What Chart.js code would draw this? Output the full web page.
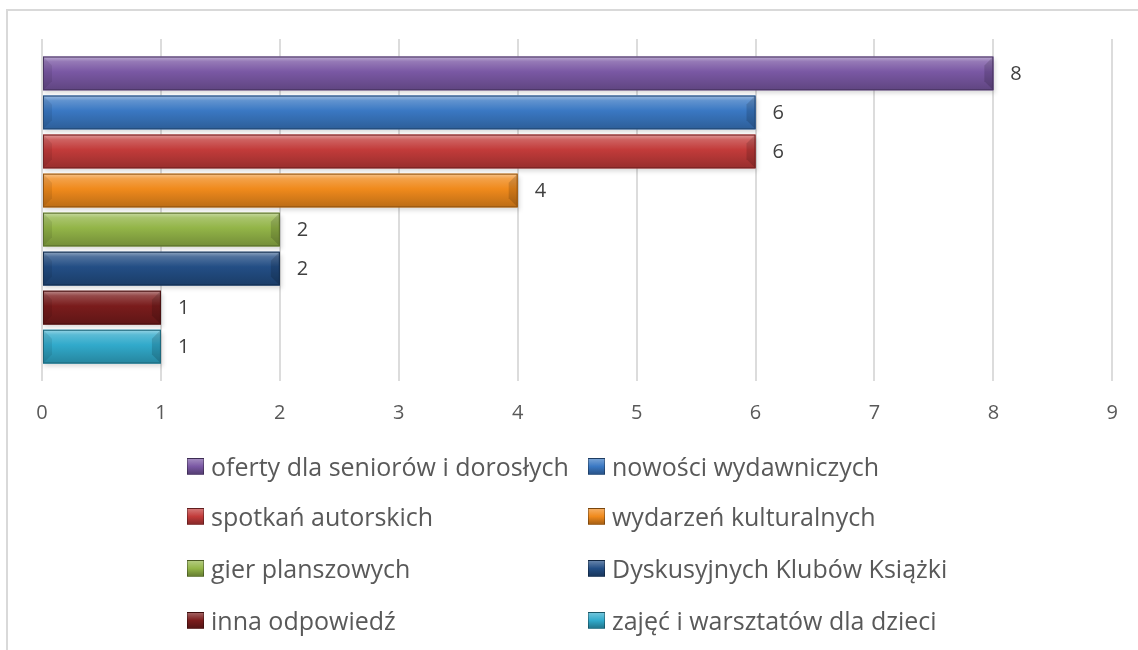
<!DOCTYPE html>
<html>
<head>
<meta charset="utf-8">
<script src="https://cdn.jsdelivr.net/npm/chart.js@4.4.1/dist/chart.umd.min.js"></script>
<style>
    html, body { margin: 0; padding: 0; background: #fff; }
    body { width: 1138px; height: 650px; position: relative; overflow: hidden; font-family: "Open Sans", sans-serif; }
    #frame { position: absolute; left: 6px; top: 9px; width: 1200px; height: 700px; border-left: 2px solid #d9d9d9; border-top: 2px solid #d9d9d9; }
    #chart { position: absolute; left: 0; top: 0; }
    #legend { position: absolute; left: 0; top: 0; width: 1138px; height: 650px; pointer-events: none; }
    .item { position: absolute; display: flex; align-items: center; height: 34px; color: #595959; font-size: 25px; white-space: nowrap; }
    .sw { width: 15px; height: 15px; margin-right: 7px; border: 1px solid rgba(0,0,0,0.3); }
</style>
</head>
<body>
<div id="frame"></div>
<canvas id="chart" width="1138" height="650"></canvas>
<div id="legend"></div>
<script>
// Data
const seriesNames = [
    'oferty dla seniorów i dorosłych',
    'nowości wydawniczych',
    'spotkań autorskich',
    'wydarzeń kulturalnych',
    'gier planszowych',
    'Dyskusyjnych Klubów Książki',
    'inna odpowiedź',
    'zajęć i warsztatów dla dzieci'
];
const seriesValues = [8, 6, 6, 4, 2, 2, 1, 1];
const seriesColors = ['#7a58a4', '#3a78c3', '#c23b3a', '#f08a1c', '#93b548', '#234e85', '#7a1c1c', '#31aacb'];
const xTicks = [0, 1, 2, 3, 4, 5, 6, 7, 8, 9];

// lighten (amt > 0) or darken (amt < 0) a hex colour
function shade(hex, amt) {
    const n = parseInt(hex.slice(1), 16);
    let r = n >> 16, g = (n >> 8) & 255, b = n & 255;
    const f = c => amt >= 0 ? Math.round(c + (255 - c) * amt) : Math.round(c * (1 + amt));
    return `rgb(${f(r)}, ${f(g)}, ${f(b)})`;
}

// shadow under bars, then gradient + bevel faces on top of them
const bevelPlugin = {
    id: 'bevel',
    beforeDatasetsDraw(chart) {
        const ctx = chart.ctx;
        chart.data.datasets.forEach((ds, i) => {
            const bar = chart.getDatasetMeta(i).data[0];
            const h = bar.height, x0 = bar.base, x1 = bar.x, y0 = bar.y - h / 2;
            ctx.save();
            ctx.fillStyle = 'rgba(0,0,0,0.14)';
            ctx.filter = 'blur(2px)';
            ctx.fillRect(x0 + 1, y0 + 3, x1 - x0 + 1, h);
            ctx.restore();
        });
    },
    afterDatasetsDraw(chart) {
        const ctx = chart.ctx;
        chart.data.datasets.forEach((ds, i) => {
            const bar = chart.getDatasetMeta(i).data[0];
            const base = seriesColors[i];
            const h = bar.height, x0 = bar.base, x1 = bar.x, y0 = bar.y - h / 2, y1 = y0 + h;
            const b = 9;
            ctx.save();
            const g = ctx.createLinearGradient(0, y0, 0, y1);
            g.addColorStop(0, shade(base, 0.5));
            g.addColorStop(0.15, shade(base, 0.2));
            g.addColorStop(0.45, base);
            g.addColorStop(1, shade(base, -0.22));
            ctx.fillStyle = g;
            ctx.fillRect(x0, y0, x1 - x0, h);
            // left bevel face
            ctx.fillStyle = 'rgba(0,0,0,0.08)';
            ctx.beginPath();
            ctx.moveTo(x0, y0); ctx.lineTo(x0 + b, y0 + b); ctx.lineTo(x0 + b, y1 - b); ctx.lineTo(x0, y1); ctx.closePath();
            ctx.fill();
            // right bevel face
            ctx.fillStyle = 'rgba(0,0,0,0.14)';
            ctx.beginPath();
            ctx.moveTo(x1, y0); ctx.lineTo(x1 - b, y0 + b); ctx.lineTo(x1 - b, y1 - b); ctx.lineTo(x1, y1); ctx.closePath();
            ctx.fill();
            ctx.strokeStyle = shade(base, -0.4);
            ctx.lineWidth = 1;
            ctx.strokeRect(x0 + 0.5, y0 + 0.5, x1 - x0 - 1, h - 1);
            ctx.restore();
        });
    }
};

// value labels right of bars
const valueLabels = {
    id: 'valueLabels',
    afterDatasetsDraw(chart) {
        const ctx = chart.ctx;
        ctx.save();
        ctx.font = '20px "Open Sans", sans-serif';
        ctx.fillStyle = '#404040';
        ctx.textAlign = 'left';
        ctx.textBaseline = 'middle';
        chart.data.datasets.forEach((ds, i) => {
            const bar = chart.getDatasetMeta(i).data[0];
            ctx.fillText(String(ds.data[0]), bar.x + 17, bar.y + 1);
        });
        ctx.restore();
    }
};

const chart = new Chart(document.getElementById('chart'), {
    type: 'bar',
    data: {
        labels: [''],
        datasets: seriesNames.map((name, i) => ({
            label: name,
            data: [seriesValues[i]],
            backgroundColor: seriesColors[i],
            borderWidth: 0,
            categoryPercentage: 0.913,
            barPercentage: 0.863
        }))
    },
    options: {
        indexAxis: 'y',
        responsive: false,
        animation: false,
        layout: { padding: { left: 42, right: 24, top: 39, bottom: 205 } },
        plugins: { legend: { display: false }, tooltip: { enabled: false } },
        scales: {
            x: {
                min: 0, max: 9,
                afterBuildTicks: axis => { axis.ticks = xTicks.map(v => ({ value: v })); },
                grid: { color: '#dcdcdc', lineWidth: 2, drawTicks: false },
                border: { display: false },
                ticks: { padding: 20, color: '#595959', font: { family: '"Open Sans", sans-serif', size: 20 } }
            },
            y: { display: false }
        }
    },
    plugins: [bevelPlugin, valueLabels]
});

// legend in two columns, like the original
const legend = document.getElementById('legend');
const colX = [187, 588];
const rowY = [466, 516, 568, 620];
seriesNames.forEach((name, i) => {
    const el = document.createElement('div');
    el.className = 'item';
    el.style.left = colX[i % 2] + 'px';
    el.style.top = (rowY[Math.floor(i / 2)] - 17) + 'px';
    const c = seriesColors[i];
    el.innerHTML = `<span class="sw" style="background: linear-gradient(${shade(c, 0.3)}, ${c} 50%, ${shade(c, -0.3)})"></span>${name}`;
    legend.appendChild(el);
});
</script>
</body>
</html>
